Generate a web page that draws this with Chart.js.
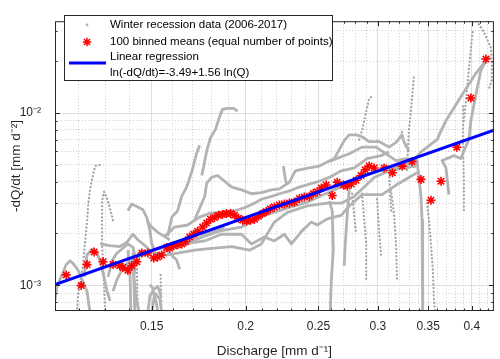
<!DOCTYPE html>
<html>
<head>
<meta charset="utf-8">
<script src="https://cdn.jsdelivr.net/npm/chart.js@4.4.1/dist/chart.umd.min.js"></script>
<style>
  html, body { margin: 0; background: #fff; }
  #wrap { width: 500px; height: 359px; }
</style>
</head>
<body>
<div id="wrap"><canvas id="chart"></canvas></div>
<script>
// ── axes ───────────────────────────────────────────────
const xRange = [0.1115, 0.428];
const yRange = [0.00071, 0.0341];
const xMajor = [0.15, 0.2, 0.25, 0.3, 0.35, 0.4];
const xMajorLabels = ['0.15', '0.2', '0.25', '0.3', '0.35', '0.4'];
const xMinor = [0.12, 0.13, 0.14, 0.16, 0.17, 0.18, 0.19, 0.21, 0.22, 0.23, 0.24, 0.26, 0.27,
  0.28, 0.29, 0.31, 0.32, 0.33, 0.34, 0.36, 0.37, 0.38, 0.39, 0.41, 0.42];
const yMajor = [0.001, 0.01];
const yMajorLabels = ['10⁻³', '10⁻²'];
const yMinor = [0.0008, 0.0009, 0.002, 0.003, 0.004, 0.005, 0.006, 0.007, 0.008, 0.009, 0.02, 0.03];
const xTitle = 'Discharge [mm d⁻¹]';
const yTitle = '-dQ/dt [mm d⁻²]';
const legendLabels = ['Winter recession data (2006-2017)', '100 binned means (equal number of points)',
  'Linear regression', 'ln(-dQ/dt)=-3.49+1.56 ln(Q)'];

// ── 100 binned means (Q, -dQ/dt) ───────────────────────
const binQ = [.1154,.1208,.1230,.1257,.1292,.1332,.1360,.1373,.1394,.1411,.1433,.1455,.1482,.1509,.1527,
  .1546,.1570,.1585,.1604,.1624,.1644,.1664,.1684,.1705,.1726,.1753,.1775,.1796,.1818,.1840,.1863,.1886,
  .1910,.1933,.1957,.1982,.2006,.2030,.2055,.2080,.2106,.2131,.2157,.2184,.2218,.2252,.2287,.2322,.2358,
  .2394,.2431,.2461,.2491,.2522,.2560,.2608,.2648,.2697,.2730,.2764,.2806,.2849,.2885,.2920,.2965,.3057,
  .3136,.3232,.3330,.3423,.3529,.3640,.3820,.3988,.4176];
const binD = [.00115,.000997,.00132,.00156,.00137,.00132,.00130,.00127,.00122,.00130,.00137,.00154,.00154,
  .00144,.00146,.00150,.00166,.00164,.00170,.00172,.00174,.00179,.00191,.00198,.00206,.00218,.00230,.00242,
  .00248,.00255,.00258,.00261,.00261,.00255,.00245,.00239,.00236,.00239,.00242,.00252,.00261,.00268,.00278,
  .00285,.00293,.00297,.00301,.00305,.00319,.00326,.00328,.00341,.00349,.00367,.00382,.00332,.00397,.00382,
  .00377,.00387,.00407,.00434,.00468,.00492,.00480,.00480,.00450,.00492,.00524,.00412,.00312,.00402,.00633,
  .01223,.02057];

// ── regression line end points ─────────────────────────
const regQ = [0.1115, 0.428];
const regD = [0.00101, 0.00796];

// ── winter recession traces, dense (drawn as lines) ────
const denseTraces = [
  [[.1115,.000814],[.1122,.000984],[.1132,.00108],[.1143,.00119],[.1154,.00132],[.1168,.00139],[.1182,.00132],[.1197,.00122],[.1215,.00105],[.1230,.000924],[.1241,.0007]],
  [[.1219,.00112],[.1230,.00150],[.1249,.00162],[.1269,.00154],[.1284,.00132],[.1296,.00111],[.1308,.000924],[.1320,.000814]],
  [[.1312,.00112],[.1328,.00139],[.1348,.00154],[.1368,.00162],[.1394,.00174],[.1416,.00166],[.1429,.00139],[.1420,.00112],[.1429,.000867],[.1442,.0007]],
  [[.1394,.00271],[.1411,.00297],[.1437,.00285],[.1460,.00275],[.1478,.00246],[.1491,.00208],[.1500,.00174],[.1514,.00158]],
  [[.1478,.00236],[.1500,.00218],[.1528,.00203],[.1556,.00193],[.1585,.00184]],
  [[.1332,.000924],[.1348,.00108],[.1364,.00119],[.1385,.00132],[.1407,.00139],[.1433,.00144],[.1460,.00150],[.1491,.00158],[.1528,.00162],[.1561,.00166],[.1609,.00174],[.1659,.00184],[.1710,.00193],[.1764,.00201],[.1818,.00208],[.1875,.00218]],
  [[.1280,.00174],[.1320,.00170],[.1360,.00168],[.1390,.00178],[.1416,.00198],[.1437,.00184],[.1460,.00174],[.1491,.00160],[.1537,.00150],[.1570,.00160],[.1619,.00140],[.1634,.00124]],
  [[.1394,.00160],[.1403,.00119],[.1407,.0007]],
  [[.1416,.00154],[.1420,.00105],[.1424,.0007]],
  [[.1482,.0007],[.1491,.000867],[.1505,.000924],[.1519,.000814],[.1528,.0007]],
  [[.1500,.0007],[.1514,.000901],[.1537,.000836],[.1546,.0007]],
  [[.1491,.00101],[.1509,.000947],[.1528,.000984],[.1543,.000867]],
  [[.1575,.00193],[.1595,.00249],[.1624,.00271],[.1644,.00328],[.1669,.00372],[.1694,.00450],[.1720,.00580],[.1737,.00650]],
  [[.1748,.00434],[.1759,.00492],[.1775,.00603],[.1796,.00719],[.1824,.00806],[.1846,.00950],[.1863,.0105],[.1892,.01065],[.1927,.01065],[.1951,.01025]],
  [[.1561,.00193],[.1609,.00218],[.1674,.00224],[.1737,.00249],[.1791,.00262],[.1875,.00265],[.1933,.00271],[.1993,.00282],[.2055,.00300],[.2099,.00316],[.2164,.00328],[.2218,.00340],[.2287,.00353],[.2358,.00372],[.2431,.00387],[.2506,.00402],[.2584,.00423],[.2681,.00462],[.2789,.00480],[.2902,.00544],[.3029,.00566],[.3104,.00595]],
  [[.1710,.00239],[.1764,.00328],[.1775,.00392],[.1802,.00423],[.1835,.00434],[.1869,.00407],[.1916,.00372],[.1975,.00358],[.2036,.00340],[.2099,.00345],[.2164,.00358],[.2218,.00363],[.2287,.00397],[.2329,.00462],[.2358,.00468],[.2431,.00480],[.2506,.00492],[.2624,.00544],[.2705,.00692],[.2747,.00747],[.2806,.00747],[.2858,.00728],[.2920,.00683],[.3010,.00683],[.3104,.00634],[.3171,.00675],[.3229,.00747],[.3249,.00683],[.3299,.00603]],
  [[.1561,.00164],[.1659,.00174],[.1764,.00193],[.1857,.00208],[.1975,.00218],[.2055,.00239],[.2118,.00255],[.2218,.00271],[.2322,.00289],[.2416,.00304],[.2506,.00328],[.2624,.00358],[.2747,.00392],[.2876,.00434],[.3010,.00462],[.3152,.00480],[.3319,.00511],[.3423,.00595],[.3595,.00701],[.3695,.00903],[.3881,.01271],[.4050,.01701],[.4176,.02006],[.4240,.0211]],
  [[.1561,.00150],[.1624,.00154],[.1710,.00160],[.1802,.00164],[.1916,.00168],[.2024,.00160],[.2099,.00174],[.2184,.00233],[.2273,.00265],[.2416,.00289],[.2568,.00300],[.2681,.00300],[.2789,.00328],[.2876,.00372],[.2965,.00423],[.3104,.00462],[.3249,.00480],[.3371,.00492]],
  [[.1659,.00174],[.1764,.00181],[.1857,.00198],[.1975,.00198],[.2036,.00174],[.2118,.00191],[.2184,.00181],[.2252,.00198],[.2301,.00174],[.2372,.00205],[.2446,.00233],[.2491,.00224],[.2568,.00243],[.2681,.00255],[.2747,.00289],[.2858,.00336],[.3038,.00336],[.3171,.00382],[.3269,.00413],[.3381,.00450]],
  [[.2584,.00524],[.2747,.00580],[.2858,.00634],[.2983,.00634],[.3076,.00580],[.3171,.00530],[.3269,.00544],[.3381,.00530]],
  [[.3729,.00336],[.3695,.00480],[.3651,.00530],[.3707,.00544],[.3787,.00566],[.3868,.00544],[.3904,.00603],[.3964,.00701],[.3988,.00903],[.4050,.01271],[.4112,.01767],[.4176,.02006]],
  [[.3319,.00498],[.3381,.00530],[.3402,.00423],[.3423,.00328],[.3434,.00239],[.3434,.00174],[.3444,.00119],[.3444,.0007]],
  [[.2584,.00308],[.2608,.00271],[.2616,.00160],[.2600,.00105],[.2592,.0007]],
  [[.2747,.00358],[.2730,.00255],[.2714,.00174],[.2705,.0013]],
  [[.2245,.00492],[.2259,.00412],[.2273,.00382]]
];

// ── winter recession traces, sparse (drawn as dots) ────
const sparseTraces = [
  [[.1193,.0007],[.1197,.00089],[.1215,.00129],[.1222,.00174],[.1230,.00233],[.1234,.00289],[.1241,.00358],[.1253,.00439],[.1261,.00492],[.1272,.00498],[.1288,.00498]],
  [[.1332,.00239],[.1320,.00278],[.1308,.00320],[.1296,.00349],[.1288,.00308],[.1288,.00233],[.1288,.00174],[.1292,.00135],[.1296,.00101],[.1300,.0007]],
  [[.1433,.00124],[.1437,.0007]],
  [[.1541,.00115],[.1546,.0007]],
  [[.3486,.00300],[.3508,.00239],[.3529,.00174],[.3551,.00119],[.3562,.000814],[.3573,.0007]],
  [[.2772,.00340],[.2789,.00255],[.2806,.00198]],
  [[.2858,.00340],[.2876,.00239],[.2894,.00174],[.2894,.00105]],
  [[.2992,.00316],[.3010,.00211],[.3029,.00148]],
  [[.3123,.00358],[.3152,.00255],[.3171,.00174],[.3181,.00105]],
  [[.3104,.00468],[.3114,.00349],[.3123,.00271]],
  [[.3894,.01092],[.3894,.00618],[.3904,.00397],[.3904,.00271]],
  [[.2832,.00701],[.2858,.00796],[.2894,.01025],[.2920,.01208],[.2938,.01239]],
  [[.3279,.00468],[.3289,.00618],[.3299,.00796],[.3319,.01025],[.3350,.01638]],
  [[.3904,.00903],[.3928,.01163],[.3952,.01557],[.3976,.02057],[.4000,.02649],[.4013,.03006]],
  [[.4062,.03412],[.4125,.03083],[.4188,.02717],[.4240,.02394],[.4253,.01930],[.4253,.01557],[.4214,.01372]],
  [[.3229,.00776],[.3239,.00701],[.3269,.00634]]
];

const GRAY = '#b3b3b3', DOT = '#a6a6a6', RED = '#ff0000', BLUE = '#0000ff', INK = '#262626';
const FONT = "'Liberation Sans', Arial, sans-serif";
const toXY = (t) => t.map(([q, d]) => ({ x: q, y: d }));
const near = (list, v) => list.some((m) => Math.abs(m - v) < 1e-9);

const datasets = [
  { data: regQ.map((q, i) => ({ x: q, y: regD[i] })), showLine: true, borderColor: BLUE,
    borderWidth: 3, pointRadius: 0, order: 0 },
  { data: binQ.map((q, i) => ({ x: q, y: binD[i] })), pointStyle: 'star', pointRadius: 4.5,
    pointBorderWidth: 1.6, pointBorderColor: RED, pointBackgroundColor: RED, order: 1 },
];
denseTraces.forEach((t) => datasets.push({ data: toXY(t), showLine: true, borderColor: GRAY,
  borderWidth: 2.8, pointRadius: 0, borderJoinStyle: 'round', order: 2 }));
sparseTraces.forEach((t) => datasets.push({ data: toXY(t), showLine: true, borderColor: DOT,
  borderWidth: 2.3, borderDash: [0.1, 3.6], borderCapStyle: 'round', pointRadius: 0, order: 2 }));

// inward ticks, axes box, legend
const frame = {
  id: 'frame',
  afterDatasetsDraw(chart) {
    const { ctx, chartArea: a, scales: { x, y } } = chart;
    ctx.save();
    ctx.strokeStyle = INK; ctx.lineWidth = 1;
    ctx.beginPath();
    const xt = (v, len) => { const p = Math.round(x.getPixelForValue(v)) + 0.5;
      ctx.moveTo(p, a.bottom); ctx.lineTo(p, a.bottom - len); ctx.moveTo(p, a.top); ctx.lineTo(p, a.top + len); };
    const yt = (v, len) => { const p = Math.round(y.getPixelForValue(v)) + 0.5;
      ctx.moveTo(a.left, p); ctx.lineTo(a.left + len, p); ctx.moveTo(a.right, p); ctx.lineTo(a.right - len, p); };
    xMajor.forEach((v) => xt(v, 5)); xMinor.forEach((v) => xt(v, 2.5));
    yMajor.forEach((v) => yt(v, 5)); yMinor.forEach((v) => yt(v, 2.5));
    ctx.stroke();
    ctx.strokeRect(a.left + 0.5, a.top + 0.5, a.right - a.left - 1, a.bottom - a.top - 1);

    // legend
    const L = { x: 64.5, y: 15.5, w: 268, h: 65 };
    ctx.fillStyle = '#fff'; ctx.fillRect(L.x, L.y, L.w, L.h);
    ctx.strokeRect(L.x, L.y, L.w, L.h);
    ctx.fillStyle = GRAY; ctx.beginPath(); ctx.arc(87, 25, 1.4, 0, Math.PI * 2); ctx.fill();
    ctx.strokeStyle = RED; ctx.lineWidth = 1.5; ctx.beginPath();
    for (let k = 0; k < 4; k++) { const r = k * Math.PI / 4;
      ctx.moveTo(87 - 4.3 * Math.cos(r), 42 - 4.3 * Math.sin(r)); ctx.lineTo(87 + 4.3 * Math.cos(r), 42 + 4.3 * Math.sin(r)); }
    ctx.stroke();
    ctx.strokeStyle = BLUE; ctx.lineWidth = 3; ctx.beginPath(); ctx.moveTo(69, 63); ctx.lineTo(106, 63); ctx.stroke();
    ctx.fillStyle = '#000'; ctx.font = '11.5px ' + FONT; ctx.textBaseline = 'middle';
    [25, 42, 57, 73].forEach((ty, i) => ctx.fillText(legendLabels[i], 110, ty));
    ctx.restore();
  },
};

const tickColor = (major) => (ctx) => (near(major, ctx.tick.value) ? '#dedede' : '#cfcfcf');
const tickDash = (major) => (ctx) => (near(major, ctx.tick.value) ? [] : [1, 2]);

new Chart(document.getElementById('chart'), {
  type: 'scatter',
  data: { datasets },
  options: {
    responsive: true, maintainAspectRatio: false, animation: false,
    layout: { padding: { left: 0, right: 5, top: 5, bottom: 0 } },
    plugins: { legend: { display: false }, tooltip: { enabled: false } },
    scales: {
      x: {
        type: 'logarithmic', min: xRange[0], max: xRange[1],
        afterBuildTicks: (s) => { s.ticks = xMinor.concat(xMajor).sort((a, b) => a - b).map((v) => ({ value: v })); },
        afterFit: (s) => { s.height = 48; },
        grid: { drawTicks: false, color: tickColor(xMajor), lineWidth: 1 },
        border: { display: false, dash: tickDash(xMajor) },
        ticks: { autoSkip: false, maxRotation: 0, padding: 8, color: INK, font: { family: FONT, size: 12 },
          callback: (v) => { const i = xMajor.findIndex((m) => Math.abs(m - v) < 1e-9); return i < 0 ? '' : xMajorLabels[i]; } },
        title: { display: true, text: xTitle, color: INK, font: { family: FONT, size: 13.5 }, padding: { top: 4, bottom: 0 } },
      },
      y: {
        type: 'logarithmic', min: yRange[0], max: yRange[1],
        afterBuildTicks: (s) => { s.ticks = yMinor.concat(yMajor).sort((a, b) => a - b).map((v) => ({ value: v })); },
        afterFit: (s) => { s.width = 55; },
        grid: { drawTicks: false, color: tickColor(yMajor), lineWidth: 1 },
        border: { display: false, dash: tickDash(yMajor) },
        ticks: { autoSkip: false, padding: 14, color: INK, font: { family: FONT, size: 12 },
          callback: (v) => { const i = yMajor.findIndex((m) => Math.abs(m - v) < 1e-12); return i < 0 ? '' : yMajorLabels[i]; } },
        title: { display: true, text: yTitle, color: INK, font: { family: FONT, size: 13.5 }, padding: { top: 8, bottom: 0 } },
      },
    },
  },
  plugins: [frame],
});
</script>
</body>
</html>
